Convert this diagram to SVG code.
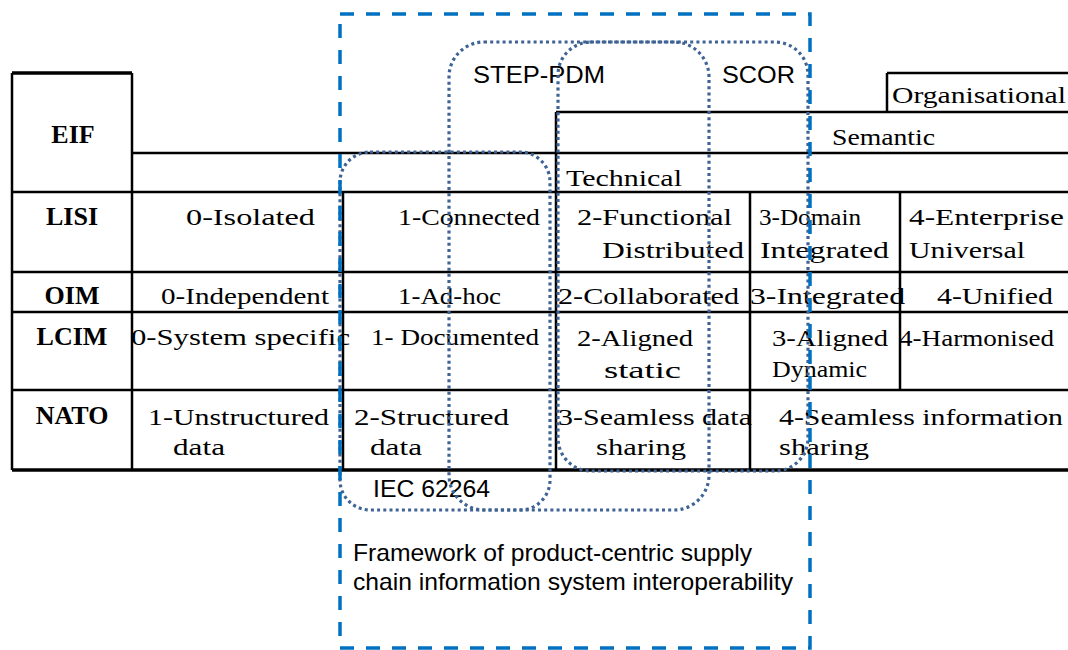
<svg xmlns="http://www.w3.org/2000/svg" width="1068" height="650" viewBox="0 0 1068 650">
<style>
.ln{stroke:#000;stroke-width:2.5;fill:none}
.lt{stroke:#000;stroke-width:3.5;fill:none}
.hd{font-family:"Liberation Serif","Times New Roman",serif;font-weight:bold;font-size:26px;fill:#000;text-anchor:middle}
.cell{font-family:"Liberation Serif","Times New Roman",serif;font-size:24px;fill:#000}
.lbl{font-family:"Liberation Sans",Arial,sans-serif;font-size:24px;fill:#000}
.dot{fill:none;stroke:#3E6394;stroke-width:3.2;stroke-dasharray:3 3.2}
.dash{fill:none;stroke:#0070C0;stroke-width:3.5;stroke-dasharray:14 12}
</style>
<rect width="1068" height="650" fill="#fff"/>
<g id="table-grid">
<path class="lt" d="M12 73H132"/>
<path class="ln" d="M887 73H1068M887 73V112M556 112H1068M556 112V153M132 153H1068M12 192H1068M12 272H1068M12 312H1068M12 390H1068"/>
<path class="lt" d="M12 470H1068"/>
<path class="ln" d="M12 73V470M132 73V470M343 192V470M556 153V470M750 192V470M900 192V390"/>
</g>
<g id="row-EIF">
<text class="hd" x="73" y="143">EIF</text>
<text class="cell" x="892" y="103" textLength="174" lengthAdjust="spacingAndGlyphs">Organisational</text>
<text class="cell" x="832" y="145" textLength="103" lengthAdjust="spacingAndGlyphs">Semantic</text>
<text class="cell" x="566" y="186" textLength="116" lengthAdjust="spacingAndGlyphs">Technical</text>
</g>
<g id="row-LISI">
<text class="hd" x="72" y="225">LISI</text>
<text class="cell" x="186" y="225" textLength="129" lengthAdjust="spacingAndGlyphs">0-Isolated</text>
<text class="cell" x="398" y="225" textLength="142" lengthAdjust="spacingAndGlyphs">1-Connected</text>
<text class="cell" x="577" y="225" textLength="155" lengthAdjust="spacingAndGlyphs">2-Functional</text>
<text class="cell" x="602" y="258" textLength="142" lengthAdjust="spacingAndGlyphs">Distributed</text>
<text class="cell" x="759" y="225" textLength="102" lengthAdjust="spacingAndGlyphs">3-Domain</text>
<text class="cell" x="760" y="258" textLength="129" lengthAdjust="spacingAndGlyphs">Integrated</text>
<text class="cell" x="909" y="225" textLength="155" lengthAdjust="spacingAndGlyphs">4-Enterprise</text>
<text class="cell" x="909" y="258" textLength="116" lengthAdjust="spacingAndGlyphs">Universal</text>
</g>
<g id="row-OIM">
<text class="hd" x="72" y="304">OIM</text>
<text class="cell" x="161" y="304" textLength="168" lengthAdjust="spacingAndGlyphs">0-Independent</text>
<text class="cell" x="398" y="304" textLength="103" lengthAdjust="spacingAndGlyphs">1-Ad-hoc</text>
<text class="cell" x="558" y="304" textLength="181" lengthAdjust="spacingAndGlyphs">2-Collaborated</text>
<text class="cell" x="750" y="304" textLength="155" lengthAdjust="spacingAndGlyphs">3-Integrated</text>
<text class="cell" x="937" y="304" textLength="116" lengthAdjust="spacingAndGlyphs">4-Unified</text>
</g>
<g id="row-LCIM">
<text class="hd" x="72" y="345">LCIM</text>
<text class="cell" x="131" y="345" textLength="219" lengthAdjust="spacingAndGlyphs">0-System specific</text>
<text class="cell" x="371" y="345" textLength="168" lengthAdjust="spacingAndGlyphs">1- Documented</text>
<text class="cell" x="577" y="346" textLength="116" lengthAdjust="spacingAndGlyphs">2-Aligned</text>
<text class="cell" x="604" y="378" textLength="77" lengthAdjust="spacingAndGlyphs">static</text>
<text class="cell" x="772" y="346" textLength="116" lengthAdjust="spacingAndGlyphs">3-Aligned</text>
<text class="cell" x="772" y="377" textLength="95" lengthAdjust="spacingAndGlyphs">Dynamic</text>
<text class="cell" x="899" y="346" textLength="155" lengthAdjust="spacingAndGlyphs">4-Harmonised</text>
</g>
<g id="row-NATO">
<text class="hd" x="72" y="424">NATO</text>
<text class="cell" x="148" y="425" textLength="181" lengthAdjust="spacingAndGlyphs">1-Unstructured</text>
<text class="cell" x="173" y="455" textLength="52" lengthAdjust="spacingAndGlyphs">data</text>
<text class="cell" x="354" y="425" textLength="155" lengthAdjust="spacingAndGlyphs">2-Structured</text>
<text class="cell" x="370" y="455" textLength="52" lengthAdjust="spacingAndGlyphs">data</text>
<text class="cell" x="558" y="425" textLength="194" lengthAdjust="spacingAndGlyphs">3-Seamless data</text>
<text class="cell" x="596" y="455" textLength="90" lengthAdjust="spacingAndGlyphs">sharing</text>
<text class="cell" x="779" y="425" textLength="284" lengthAdjust="spacingAndGlyphs">4-Seamless information</text>
<text class="cell" x="779" y="455" textLength="90" lengthAdjust="spacingAndGlyphs">sharing</text>
</g>
<g id="IEC62264">
<rect class="dot" x="340" y="152" width="210" height="358" rx="30"/>
<text class="lbl" x="373" y="497" textLength="117" lengthAdjust="spacingAndGlyphs">IEC 62264</text>
</g>
<g id="STEP-PDM">
<rect class="dot" x="449" y="42" width="260" height="468" rx="35"/>
<text class="lbl" x="473" y="83" textLength="132" lengthAdjust="spacingAndGlyphs">STEP-PDM</text>
</g>
<g id="SCOR">
<rect class="dot" x="558" y="42" width="250" height="429" rx="33"/>
<text class="lbl" x="722" y="83" textLength="73" lengthAdjust="spacingAndGlyphs">SCOR</text>
</g>
<g id="framework">
<rect class="dash" x="340" y="14" width="470" height="634"/>
<text class="lbl" x="353" y="561" font-size="22" textLength="399" lengthAdjust="spacingAndGlyphs">Framework of product-centric supply</text>
<text class="lbl" x="353" y="590" font-size="22" textLength="440" lengthAdjust="spacingAndGlyphs">chain information system interoperability</text>
</g>
</svg>
